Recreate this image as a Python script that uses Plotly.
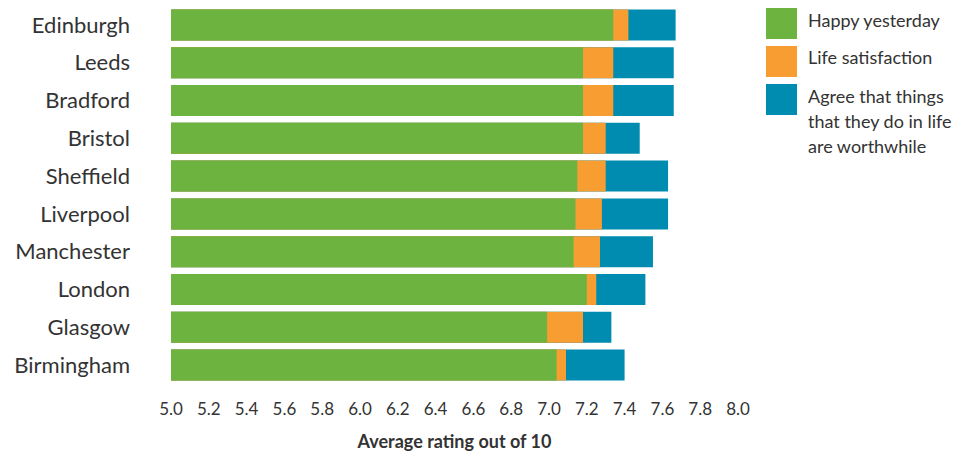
import plotly.graph_objects as go

cities = ["Edinburgh", "Leeds", "Bradford", "Bristol", "Sheffield",
          "Liverpool", "Manchester", "London", "Glasgow", "Birmingham"]
happy = [7.34, 7.18, 7.18, 7.18, 7.15, 7.14, 7.13, 7.20, 6.99, 7.04]
life_sat = [7.42, 7.34, 7.34, 7.30, 7.30, 7.28, 7.27, 7.25, 7.18, 7.09]
worthwhile = [7.67, 7.66, 7.66, 7.48, 7.63, 7.63, 7.55, 7.51, 7.33, 7.40]
x_ticks = [5.0, 5.2, 5.4, 5.6, 5.8, 6.0, 6.2, 6.4, 6.6, 6.8, 7.0, 7.2, 7.4, 7.6, 7.8, 8.0]
series_names = ["Happy yesterday", "Life satisfaction",
                ["Agree that things", "that they do in life", "are worthwhile"]]

GREEN = "#6db33f"
ORANGE = "#f89d31"
BLUE = "#008bb0"
TEXT = "#333333"
FONT = "Lato"

W, H = 962, 456
ML, MR, MT, MB = 171, 224, 6, 72
PW, PH = W - ML - MR, H - MT - MB


def px(x):
    return (x - ML) / PW


def py(y):
    return (H - MB - y) / PH


fig = go.Figure()
for vals, col, nm in [(worthwhile, BLUE, "Worthwhile"),
                      (life_sat, ORANGE, "Life satisfaction"),
                      (happy, GREEN, "Happy yesterday")]:
    fig.add_trace(go.Bar(y=cities, x=vals, orientation="h", marker=dict(color=col, line=dict(width=0)),
                         name=nm, showlegend=False))

fig.update_layout(
    width=W, height=H,
    margin=dict(l=ML, r=MR, t=MT, b=MB, autoexpand=False),
    barmode="overlay", bargap=0.18,
    plot_bgcolor="white", paper_bgcolor="white",
    font=dict(family=FONT, color=TEXT),
)
fig.update_xaxes(range=[5, 8], tickvals=x_ticks, ticktext=[f"{v:.1f}" for v in x_ticks],
                 showgrid=False, zeroline=False, showline=False, ticks="",
                 tickfont=dict(size=17, color=TEXT), ticklabelstandoff=13,
                 title=dict(text="<b>Average rating out of 10</b>", font=dict(size=18, color=TEXT), standoff=17))
fig.update_yaxes(autorange="reversed", showgrid=False, zeroline=False, showline=False, ticks="",
                 tickfont=dict(size=22, color=TEXT), ticklabelstandoff=40)

# legend swatches and labels
rows = [(8, GREEN), (46, ORANGE), (84, BLUE)]
for (top, col) in rows:
    fig.add_shape(type="rect", xref="paper", yref="paper",
                  x0=px(766), x1=px(797), y0=py(top + 31), y1=py(top),
                  fillcolor=col, line=dict(width=0))
label_lines = [(series_names[0], 20), (series_names[1], 57)] + \
              [(t, 96 + 25 * i) for i, t in enumerate(series_names[2])]
for t, yc in label_lines:
    fig.add_annotation(text=t, xref="paper", yref="paper", x=px(806), y=py(yc),
                       xanchor="left", yanchor="middle", showarrow=False,
                       font=dict(size=18, color=TEXT, family=FONT))

fig.write_html("out.html", config={"displayModeBar": False},
               post_script="document.body.style.margin='0';")
